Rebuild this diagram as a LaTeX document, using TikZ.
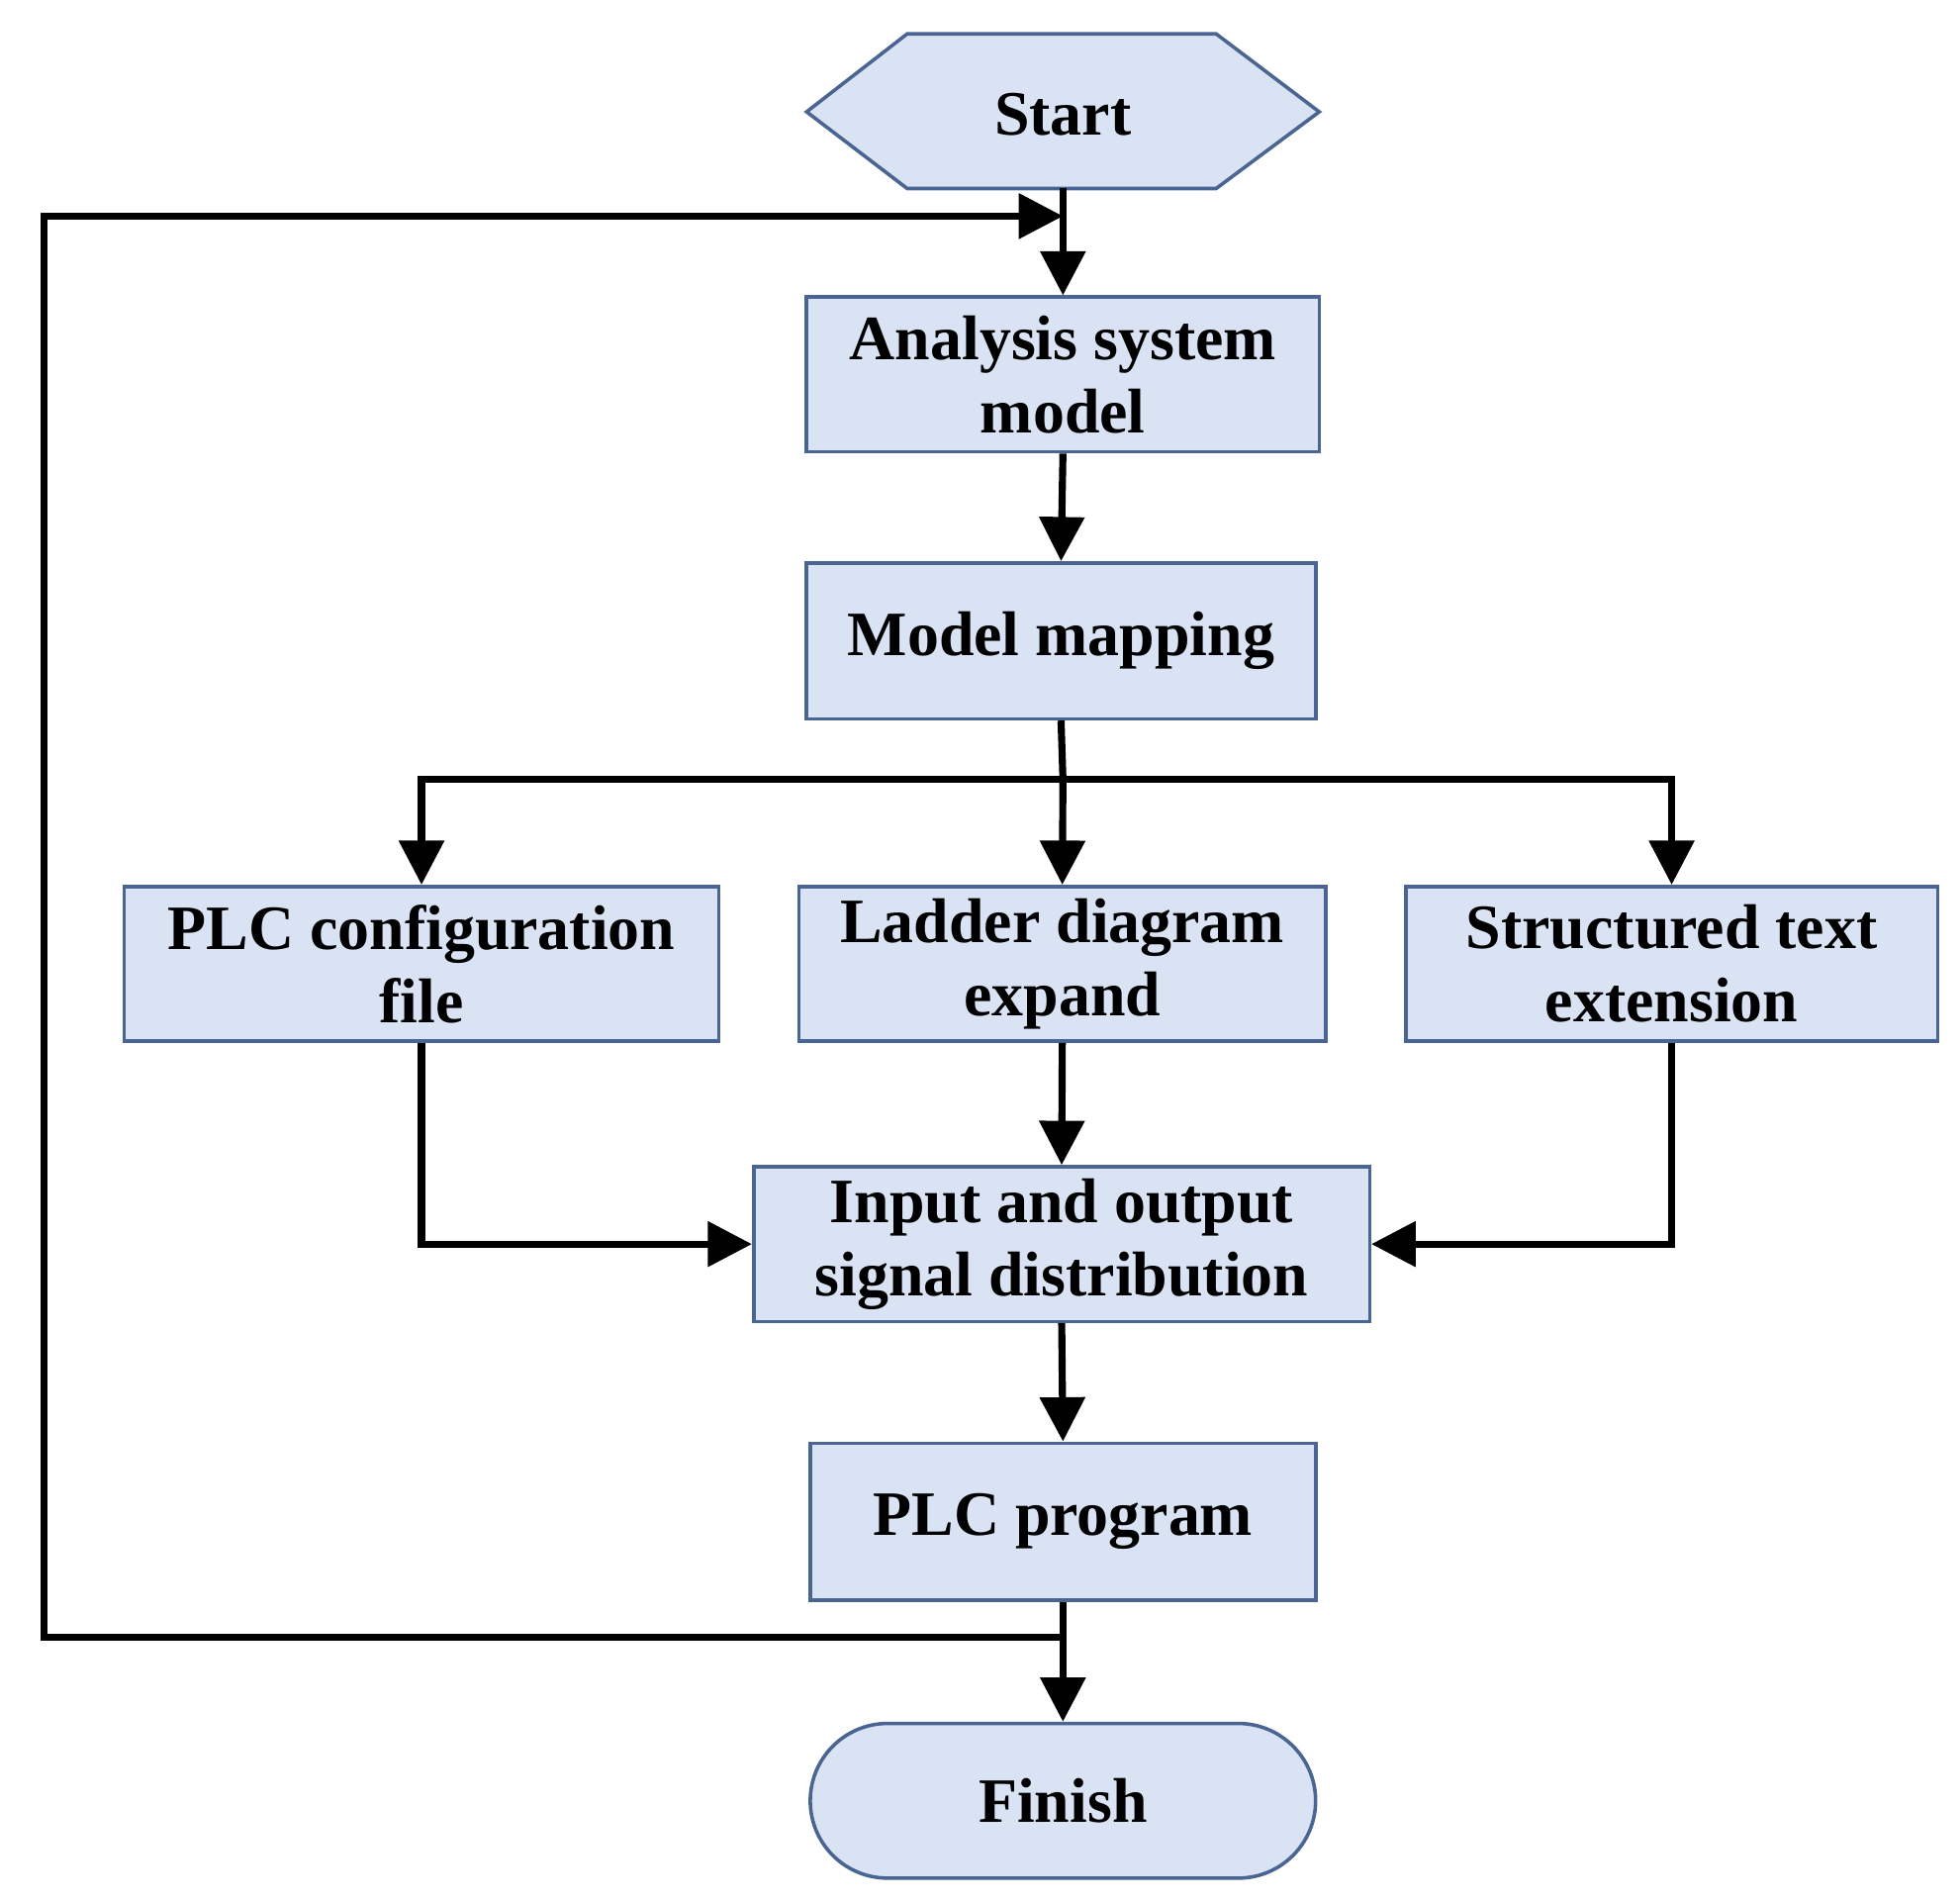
\documentclass[tikz,border=0pt]{standalone}
\usepackage{fontspec}
\setmainfont{Liberation Serif}
\usetikzlibrary{arrows.meta,shapes.misc}
\definecolor{bfill}{HTML}{DAE3F3}
\definecolor{bdraw}{HTML}{4A6591}
\begin{document}
\begin{tikzpicture}[x=0.01cm,y=-0.01cm,
  box/.style={draw=bdraw,fill=bfill,line width=0.8pt,align=center,inner sep=0pt,font=\fontsize{14.3}{16.5}\selectfont\bfseries},
  arr/.style={line width=1.6pt,-{Triangle[length=10pt,width=10pt]}},
  ln/.style={line width=1.6pt}]
\useasboundingbox (0,0) rectangle (1560,1513);
\draw[draw=bdraw,fill=bfill,line width=0.8pt] (642,89)--(722,27)--(968,27)--(1050,89)--(968,150)--(722,150)--cycle;
\node[font=\fontsize{14.3}{16.5}\selectfont\bfseries] (start) at (846,91) {Start};
\coordinate (sb) at (846,150);
\node[box,minimum width=4.08cm,minimum height=1.23cm] (ana) at (846,298) {Analysis system\\model};
\node[box,minimum width=4.05cm,minimum height=1.24cm] (map) at (844.5,510) {Model mapping};
\node[box,minimum width=4.73cm,minimum height=1.23cm] (plc) at (335.5,767) {PLC configuration\\file};
\node[box,minimum width=4.19cm,minimum height=1.23cm] (lad) at (845.5,767) {Ladder diagram\\expand};
\node[box,minimum width=4.23cm,minimum height=1.23cm] (st) at (1330.5,767) {Structured text\\extension};
\node[box,minimum width=4.9cm,minimum height=1.23cm] (io) at (845,990) {Input and output\\signal distribution};
\node[box,minimum width=4.02cm,minimum height=1.25cm] (prog) at (846,1211) {PLC program};
\node[box,rounded rectangle,minimum width=4.02cm,minimum height=1.23cm] (fin) at (846,1433) {Finish};
\coordinate (loop) at (846,172);
\coordinate (ret) at (846,1303);
\coordinate (split) at (846,620);
\draw[arr] (sb) -- (ana.north);
\draw[arr] (ana.south) -- (map.north);
\draw[ln] (map.south) -- (split);
\draw[arr] (split) -| (plc.north);
\draw[arr] (split) -- (lad.north);
\draw[arr] (split) -| (st.north);
\draw[arr] (plc.south) |- (io.west);
\draw[arr] (st.south) |- (io.east);
\draw[arr] (lad.south) -- (io.north);
\draw[arr] (io.south) -- (prog.north);
\draw[arr] (prog.south) -- (fin.north);
\draw[arr] (ret) -- (35,1303) -- (35,172) -- (loop);
\end{tikzpicture}
\end{document}
